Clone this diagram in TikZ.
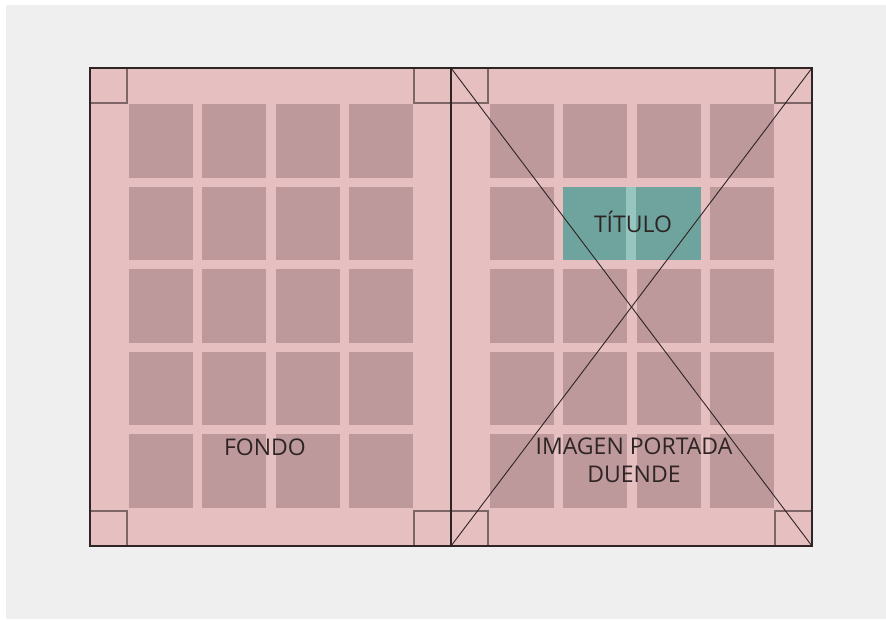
\documentclass[tikz,border=0pt]{standalone}
\usepackage{fontspec}
\setmainfont{Open Sans}
\definecolor{bggray}{HTML}{EFEFEF}
\definecolor{pagepink}{HTML}{E6C0C1}
\definecolor{cellpink}{HTML}{BE999C}
\definecolor{cornerline}{HTML}{7E6666}
\definecolor{tealbox}{HTML}{6EA39E}
\definecolor{tealstripe}{HTML}{97C6C0}
\definecolor{inkdark}{HTML}{2E2424}
\tikzset{
  cell/.style={fill=cellpink},
  corner/.style={draw=cornerline,line width=1.3pt},
  frame/.style={draw=inkdark,line width=2pt},
  diag/.style={draw=inkdark,line width=0.9pt},
  lbl/.style={text=inkdark,font=\fontsize{23}{28}\selectfont,align=center,inner sep=0pt}
}
\begin{document}
\begin{tikzpicture}[x=1pt,y=-1pt]
\useasboundingbox (0,0) rectangle (886,619);
\fill[white] (0,0) rectangle (886,619);
\fill[bggray] (6,5) rectangle (886,619);
% corners of the spread
\coordinate (tl) at (90,68);
\coordinate (tm) at (451,68);
\coordinate (tr) at (812,68);
\coordinate (bl) at (90,546);
\coordinate (bm) at (451,546);
\coordinate (br) at (812,546);
\fill[pagepink] (tl) rectangle (br);
% grid cells, both pages
\foreach \px in {0,361} {
  \foreach \cx in {0,...,3} {
    \foreach \cy in {0,...,4} {
      \fill[cell] ({129+\px+\cx*73.4},{104+\cy*82.6}) rectangle +(64,73.5);
    }
  }
}
% title block
\fill[tealbox] (563,187) rectangle (701,260);
\fill[tealstripe] (626,187) rectangle (636,260);
% margin squares
\foreach \sx in {90,414,451,775} {
  \draw[corner] (\sx,68) rectangle +(37,35);
  \draw[corner] (\sx,511) rectangle +(37,35);
}
\draw[frame] (tl) rectangle (br);
\draw[frame] (tm) -- (bm);
\draw[diag] (tm) -- (br);
\draw[diag] (tr) -- (bm);
\node[lbl] (fondo) at (265,447) {FONDO};
\node[lbl] (titulo) at (633,222) {TÍTULO};
\node[lbl] (imagen) at (634,460) {IMAGEN PORTADA\\DUENDE};
\end{tikzpicture}
\end{document}
